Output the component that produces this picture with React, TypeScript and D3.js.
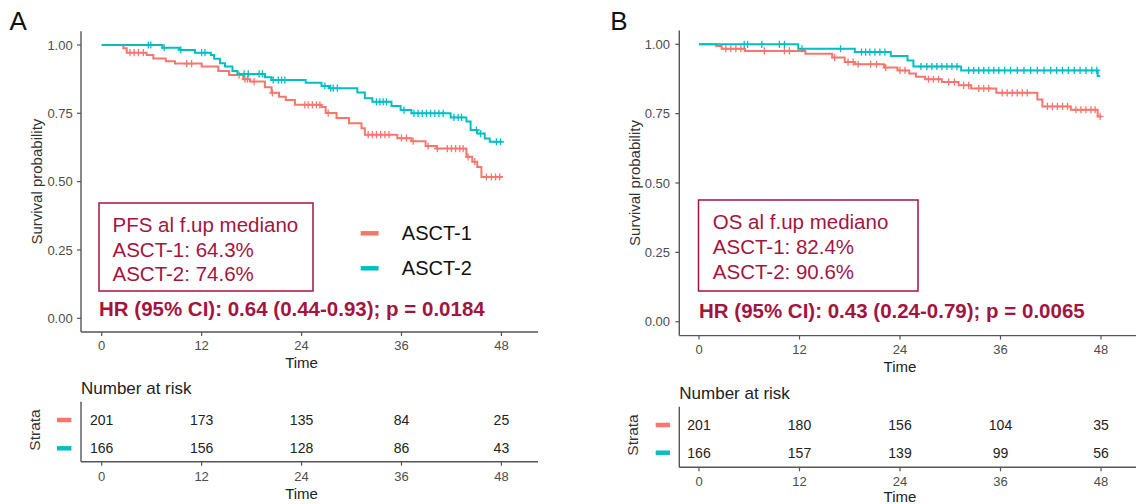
import React from 'react';
import * as d3 from 'd3';

// ---- shared axis values ----
const timeTicks = [0, 12, 24, 36, 48];
const survTicks = [0, 0.25, 0.5, 0.75, 1];
const strata = ['ASCT-1', 'ASCT-2'];
const strataColors = ['#F8766D', '#00BFC4'];

// ---- A: progression-free survival, [month, survival after the drop] ----
const pfsAsct1Steps: [number, number][] = [
  [2.6, 0.988], [3.0, 0.972], [5.4, 0.963], [6.2, 0.951], [7.7, 0.941], [8.8, 0.932],
  [12.0, 0.921], [14.0, 0.905], [15.3, 0.89], [17.0, 0.875], [17.8, 0.866], [19.6, 0.845],
  [20.4, 0.825], [21.3, 0.811], [22.1, 0.799], [23.2, 0.781], [26.4, 0.773], [26.9, 0.751],
  [28.2, 0.733], [29.7, 0.714], [31.2, 0.695], [31.6, 0.672], [35.5, 0.659], [37.2, 0.648],
  [38.9, 0.63], [40.2, 0.621], [43.8, 0.591], [44.5, 0.573], [45.1, 0.554], [45.6, 0.517],
];
const pfsAsct1End = 48.1;
const pfsAsct1Censor = [
  3.4, 3.9, 4.4, 5.0, 10.2, 10.8, 16.5, 17.2, 17.5, 18.3, 20.5, 24.4, 24.8, 25.3, 25.8, 26.2,
  27.2, 32.0, 32.5, 33.0, 33.5, 34.0, 34.5, 36.0, 36.6, 37.4, 39.2, 40.3, 41.5, 42.0, 42.5,
  43.0, 43.4, 44.0, 44.8, 46.2, 46.8, 47.3, 47.8,
];

const pfsAsct2Steps: [number, number][] = [
  [7.3, 0.99], [9.3, 0.982], [11.2, 0.972], [13.1, 0.963], [13.5, 0.95], [14.2, 0.933],
  [14.8, 0.921], [15.7, 0.905], [16.3, 0.894], [19.6, 0.882], [20.4, 0.872], [24.5, 0.862],
  [26.4, 0.85], [27.3, 0.842], [30.7, 0.826], [31.6, 0.805], [32.5, 0.792], [34.8, 0.777],
  [35.9, 0.762], [37.2, 0.75], [41.9, 0.735], [43.8, 0.72], [44.3, 0.689], [45.1, 0.676],
  [46.0, 0.658], [46.6, 0.646],
];
const pfsAsct2End = 48.1;
const pfsAsct2Censor = [
  5.6, 5.9, 7.5, 9.5, 12.0, 12.4, 17.1, 17.6, 18.9, 19.3, 20.6, 21.2, 21.6, 22.0, 26.8, 27.5,
  27.8, 28.3, 33.0, 33.4, 33.8, 34.2, 36.3, 37.5, 38.0, 38.5, 39.0, 39.5, 40.0, 40.5, 41.0,
  42.3, 42.8, 43.2, 45.0, 45.5, 47.4, 47.9,
];

const pfsRisk1 = [201, 173, 135, 84, 25];
const pfsRisk2 = [166, 156, 128, 86, 43];
const pfsSummary = ['PFS al f.up mediano', 'ASCT-1: 64.3%', 'ASCT-2: 74.6%'];
const pfsHazard = 'HR (95% CI): 0.64 (0.44-0.93); p = 0.0184';

// ---- B: overall survival ----
const osAsct1Steps: [number, number][] = [
  [2.05, 0.994], [2.7, 0.984], [5.5, 0.976], [12.7, 0.966], [15.9, 0.952], [17.4, 0.936],
  [18.6, 0.928], [22.1, 0.916], [23.7, 0.906], [25.1, 0.895], [25.9, 0.883], [27.0, 0.874],
  [29.0, 0.864], [31.0, 0.852], [32.5, 0.841], [35.5, 0.825], [40.4, 0.801], [41.0, 0.776],
  [44.4, 0.764], [47.6, 0.74],
];
const osAsct1End = 47.9;
const osAsct1Censor = [
  3.2, 3.8, 4.4, 5.0, 7.8, 10.2, 10.8, 16.2, 17.8, 18.4, 19.0, 20.5, 21.2, 22.3, 24.0, 24.6,
  27.4, 28.0, 28.6, 29.8, 30.5, 31.6, 32.2, 33.4, 34.0, 34.6, 36.2, 36.8, 37.4, 38.0, 38.6,
  39.2, 41.6, 42.2, 42.8, 43.4, 44.0, 45.0, 45.6, 46.2, 46.8, 47.3, 47.9,
];

const osAsct2Steps: [number, number][] = [
  [11.85, 0.984], [18.6, 0.972], [22.9, 0.958], [24.9, 0.942], [25.6, 0.92], [31.3, 0.906],
  [47.6, 0.886],
];
const osAsct2End = 47.9;
const osAsct2Censor = [
  5.4, 5.8, 7.5, 9.6, 10.2, 12.3, 16.9, 19.4, 19.9, 20.4, 21.0, 21.6, 22.2, 26.5, 27.2, 27.8,
  28.4, 29.0, 29.6, 30.2, 30.8, 32.2, 32.8, 33.4, 34.0, 34.6, 35.2, 35.8, 36.5, 37.2, 38.0,
  38.8, 39.6, 40.4, 41.2, 42.0, 42.7, 43.4, 44.1, 44.8, 45.5, 46.2, 46.9, 47.5,
];

const osRisk1 = [201, 180, 156, 104, 35];
const osRisk2 = [166, 157, 139, 99, 56];
const osSummary = ['OS al f.up mediano', 'ASCT-1: 82.4%', 'ASCT-2: 90.6%'];
const osHazard = 'HR (95% CI): 0.43 (0.24-0.79); p = 0.0065';

const FONT = "'Liberation Sans', Arial, Helvetica, sans-serif";
const ACCENT = '#A3153F';
const AXIS = '#555555';
const TICK_TEXT = '#4D4D4D';

type Curve = { steps: [number, number][]; end: number; censor: number[] };

type Layout = {
  letter: string; letterX: number;
  axisX: number; x0: number; x48: number; axisEnd: number;
  yOne: number; yZero: number; yAxisTop: number; xAxisY: number;
  tickRight: number; xTickY: number; timeY: number; yTitleX: number;
  box: [number, number, number, number]; boxTextX: number; boxBaselines: number[];
  hrX: number; hrY: number;
  riskTitleY: number; riskRows: number[]; riskTop: number; riskAxisY: number;
  riskTickY: number; riskTimeY: number; strataX: number; strataY: number;
  dashX: [number, number];
  legend?: { dashX: [number, number]; textX: number; rows: number[] };
};

function survivalAt(steps: [number, number][], t: number) {
  let s = 1;
  for (const [time, v] of steps) {
    if (time <= t) s = v;
    else break;
  }
  return s;
}

function KMPanel({ layout, curves, risks, summary, hazard }: {
  layout: Layout; curves: Curve[]; risks: number[][]; summary: string[]; hazard: string;
}) {
  const L = layout;
  const x = d3.scaleLinear().domain([0, 48]).range([L.x0, L.x48]);
  const y = d3.scaleLinear().domain([0, 1]).range([L.yZero, L.yOne]);
  const line = d3
    .line<[number, number]>()
    .x((d) => x(d[0]))
    .y((d) => y(d[1]))
    .curve(d3.curveStepAfter);

  const yMid = (L.yOne + L.yZero) / 2;

  return (
    <g fontFamily={FONT}>
      <text x={L.letterX} y={30} fontSize={26} fill="#111">{L.letter}</text>

      {/* survival curves */}
      {curves.map((c, i) => {
        const last = c.steps[c.steps.length - 1][1];
        const pts: [number, number][] = [[0, 1], ...c.steps, [c.end, last]];
        const marks = c.censor
          .map((t) => {
            const cx = x(t);
            const cy = y(survivalAt(c.steps, t));
            return `M${cx - 3.3},${cy}h6.6M${cx},${cy - 3.6}v7.2`;
          })
          .join('');
        return (
          <g key={i}>
            <path d={line(pts) ?? ''} fill="none" stroke={strataColors[i]} strokeWidth={2} />
            <path d={marks} fill="none" stroke={strataColors[i]} strokeWidth={1.3} />
          </g>
        );
      })}

      {/* y axis */}
      <line x1={L.axisX} x2={L.axisX} y1={L.yAxisTop} y2={L.xAxisY} stroke={AXIS} strokeWidth={1.4} />
      {survTicks.map((v) => (
        <g key={v}>
          <line x1={L.axisX - 4} x2={L.axisX} y1={y(v)} y2={y(v)} stroke={AXIS} strokeWidth={1.2} />
          <text x={L.tickRight} y={y(v)} dy="0.35em" textAnchor="end" fontSize={13} fill={TICK_TEXT}>
            {v.toFixed(2)}
          </text>
        </g>
      ))}
      <text
        transform={`translate(${L.yTitleX},${yMid}) rotate(-90)`}
        textAnchor="middle"
        dy="0.35em"
        fontSize={15}
        fill="#333"
      >
        Survival probability
      </text>

      {/* x axis */}
      <line x1={L.axisX} x2={L.axisEnd} y1={L.xAxisY} y2={L.xAxisY} stroke={AXIS} strokeWidth={1.4} />
      {timeTicks.map((t) => (
        <g key={t}>
          <line x1={x(t)} x2={x(t)} y1={L.xAxisY} y2={L.xAxisY + 4} stroke={AXIS} strokeWidth={1.2} />
          <text x={x(t)} y={L.xTickY} dy="0.35em" textAnchor="middle" fontSize={13} fill={TICK_TEXT}>
            {t}
          </text>
        </g>
      ))}
      <text x={x(24)} y={L.timeY} dy="0.35em" textAnchor="middle" fontSize={15} fill="#222">Time</text>

      {/* summary box */}
      <rect
        x={L.box[0]}
        y={L.box[1]}
        width={L.box[2] - L.box[0]}
        height={L.box[3] - L.box[1]}
        fill="none"
        stroke={ACCENT}
        strokeWidth={1.5}
      />
      {summary.map((s, i) => (
        <text key={s} x={L.boxTextX} y={L.boxBaselines[i]} fontSize={20.5} fill={ACCENT}>{s}</text>
      ))}
      <text x={L.hrX} y={L.hrY} fontSize={20.5} fontWeight="bold" fill={ACCENT}>{hazard}</text>

      {/* legend */}
      {L.legend &&
        strata.map((s, i) => (
          <g key={s}>
            <line
              x1={L.legend!.dashX[0]}
              x2={L.legend!.dashX[1]}
              y1={L.legend!.rows[i]}
              y2={L.legend!.rows[i]}
              stroke={strataColors[i]}
              strokeWidth={4.5}
            />
            <text x={L.legend!.textX} y={L.legend!.rows[i]} dy="0.35em" fontSize={20} fill="#111">{s}</text>
          </g>
        ))}

      {/* risk table */}
      <text x={L.axisX} y={L.riskTitleY} dy="0.35em" fontSize={17} fill="#222">Number at risk</text>
      <line x1={L.axisX} x2={L.axisX} y1={L.riskTop} y2={L.riskAxisY} stroke={AXIS} strokeWidth={1.4} />
      <line x1={L.axisX} x2={L.axisEnd} y1={L.riskAxisY} y2={L.riskAxisY} stroke={AXIS} strokeWidth={1.4} />
      {timeTicks.map((t) => (
        <g key={t}>
          <line x1={x(t)} x2={x(t)} y1={L.riskAxisY} y2={L.riskAxisY + 4} stroke={AXIS} strokeWidth={1.2} />
          <text x={x(t)} y={L.riskTickY} dy="0.35em" textAnchor="middle" fontSize={13} fill={TICK_TEXT}>
            {t}
          </text>
        </g>
      ))}
      <text x={x(24)} y={L.riskTimeY} dy="0.35em" textAnchor="middle" fontSize={15} fill="#222">Time</text>
      {risks.map((row, i) => (
        <g key={i}>
          <line
            x1={L.dashX[0]}
            x2={L.dashX[1]}
            y1={L.riskRows[i]}
            y2={L.riskRows[i]}
            stroke={strataColors[i]}
            strokeWidth={4.5}
          />
          {row.map((n, j) => (
            <text key={j} x={x(timeTicks[j])} y={L.riskRows[i]} dy="0.35em" textAnchor="middle" fontSize={14} fill="#222">
              {n}
            </text>
          ))}
        </g>
      ))}
      <text
        transform={`translate(${L.strataX},${L.strataY}) rotate(-90)`}
        textAnchor="middle"
        dy="0.35em"
        fontSize={15.5}
        fill="#333"
      >
        Strata
      </text>
    </g>
  );
}

const layoutA: Layout = {
  letter: 'A', letterX: 9.6,
  axisX: 81, x0: 101.7, x48: 501.4, axisEnd: 538,
  yOne: 45, yZero: 318.3, yAxisTop: 31.3, xAxisY: 332,
  tickRight: 72.7, xTickY: 345.5, timeY: 362.5, yTitleX: 36.5,
  box: [99, 203, 313, 291], boxTextX: 112.5, boxBaselines: [232, 256.5, 281],
  hrX: 99, hrY: 315.5,
  riskTitleY: 388.3, riskRows: [420, 448.3], riskTop: 401.7, riskAxisY: 461.7,
  riskTickY: 476.7, riskTimeY: 493.3, strataX: 35, strataY: 430,
  dashX: [57, 71.4],
  legend: { dashX: [360.7, 378.6], textX: 401.8, rows: [233.3, 268.3] },
};

const layoutB: Layout = {
  letter: 'B', letterX: 610.3,
  axisX: 679.3, x0: 699, x48: 1101, axisEnd: 1136,
  yOne: 44.3, yZero: 321.7, yAxisTop: 30.4, xAxisY: 335.6,
  tickRight: 670, xTickY: 349, timeY: 367, yTitleX: 635,
  box: [698.5, 200, 918, 291], boxTextX: 712.8, boxBaselines: [229.3, 254, 279],
  hrX: 699, hrY: 318,
  riskTitleY: 393.3, riskRows: [425, 452.7], riskTop: 406.7, riskAxisY: 467.3,
  riskTickY: 481.7, riskTimeY: 496.7, strataX: 633, strataY: 435,
  dashX: [655.7, 670],
};

export default function App() {
  return (
    <svg
      width={1136}
      height={504}
      viewBox="0 0 1136 504"
      style={{ position: 'absolute', left: 0, top: 0, background: '#fff' }}
    >
      <rect width={1136} height={504} fill="#fff" />
      <KMPanel
        layout={layoutA}
        curves={[
          { steps: pfsAsct1Steps, end: pfsAsct1End, censor: pfsAsct1Censor },
          { steps: pfsAsct2Steps, end: pfsAsct2End, censor: pfsAsct2Censor },
        ]}
        risks={[pfsRisk1, pfsRisk2]}
        summary={pfsSummary}
        hazard={pfsHazard}
      />
      <KMPanel
        layout={layoutB}
        curves={[
          { steps: osAsct1Steps, end: osAsct1End, censor: osAsct1Censor },
          { steps: osAsct2Steps, end: osAsct2End, censor: osAsct2Censor },
        ]}
        risks={[osRisk1, osRisk2]}
        summary={osSummary}
        hazard={osHazard}
      />
    </svg>
  );
}
